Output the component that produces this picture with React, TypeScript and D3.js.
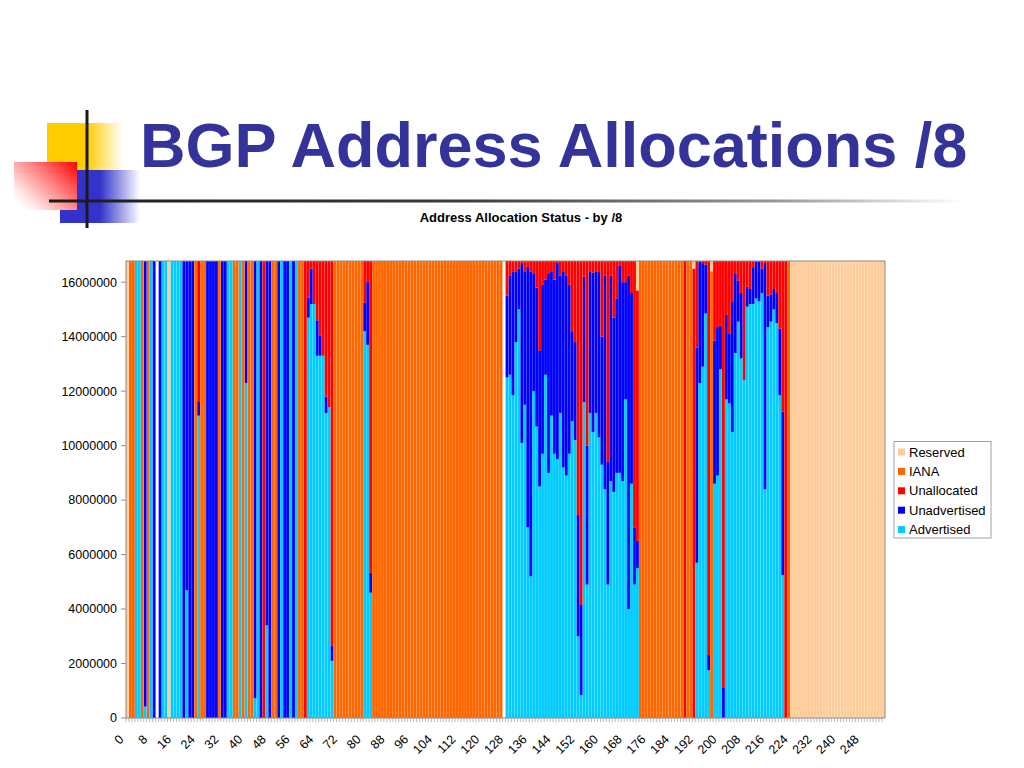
import React, { useEffect } from "react";
import * as d3 from "d3";

// ---------- DATA ----------
const BLOCK = 16777216; // addresses in one /8
const MILLION = 1e6;

const blockIds: number[] = Array.from({ length: 256 }, (_, i) => i);

// Status of each /8 when the whole block is in one state.
// R Reserved, I IANA, U Unallocated, N Unadvertised, A Advertised, M mixed (see mixedBlocks), - nothing
const blockStatus = [
  "RIIAAIMIAN-NAARA", // 0-15
  "AAANMNNIMIINNNNI", // 16-31
  "NNAAIIAIMIIMANUM", // 32-47
  "NIINANNANAIIUMMM", // 48-63
  "MMMMMMIIIIIIIIII", // 64-79
  "MMMIIIIIIIIIIIII", // 80-95
  "IIIIIIIIIIIIIIII", // 96-111
  "IIIIIIIIIIIIIII-", // 112-127
  "MMMMMMMMMMMMMMMM", // 128-143
  "MMMMMMMMMMMMMMMM", // 144-159
  "MMMMMMMMMMMMMIII", // 160-175
  "IIIIIIIIIIIIUIIM", // 176-191
  "MMMMMMMMMMMMMMMM", // 192-207
  "MMMMMMMMMMMMMMUI", // 208-223
  "RRRRRRRRRRRRRRRR", // 224-239
  "RRRRRRRRRRRRRRRR", // 240-255
].join("");

// Mixed /8s, in millions of addresses, bottom to top:
// [block, advertised, unadvertised, unallocated, iana, reserved]; null = rest of the /8
type Mixed = [number, number | null, number | null, number | null, number | null, number | null];
const mixedBlocks: Mixed[] = [
  [6, 0.42, null, 0, 0, 0],
  [20, 4.7, null, 0, 0, 0],
  [24, 11.1, 0.5, null, 0, 0],
  [40, 12.3, null, 0, 0, 0],
  [43, 0.72, null, 0, 0, 0],
  [47, 3.4, null, 0, 0, 0],
  [61, 14.7, 0.73, null, 0, 0],
  [62, 15.2, 1.3, null, 0, 0],
  [63, 15.2, 0, null, 0, 0],
  [64, 13.3, 1.3, null, 0, 0],
  [65, 13.3, 0.73, null, 0, 0],
  [66, 13.3, 0, null, 0, 0],
  [67, 11.2, 0.6, null, 0, 0],
  [68, 11.4, 0, null, 0, 0],
  [69, 2.1, 0.55, null, 0, 0],
  [80, 14.2, 1.04, null, 0, 0],
  [81, 13.7, 2.3, null, 0, 0],
  [82, 4.6, 0.73, null, 0, 0],
  [128, 12.5, 3.0, null, 0, 0],
  [129, 12.6, 3.65, null, 0, 0],
  [130, 11.85, 4.55, null, 0, 0],
  [131, 13.8, 2.6, null, 0, 0],
  [132, 15.0, 1.5, null, 0, 0],
  [133, 10.1, 6.6, null, 0, 0],
  [134, 11.5, 4.9, null, 0, 0],
  [135, 7.0, 9.56, null, 0, 0],
  [136, 5.2, 11.2, null, 0, 0],
  [137, 12.0, 4.3, null, 0, 0],
  [138, 10.7, 5.1, null, 0, 0],
  [139, 8.5, 5.0, null, 0, 0],
  [140, 9.7, 6.2, null, 0, 0],
  [141, 12.6, 3.5, null, 0, 0],
  [142, 9.0, 7.3, null, 0, 0],
  [143, 11.1, 5.3, null, 0, 0],
  [144, 9.7, 6.4, null, 0, 0],
  [145, 9.5, 7.2, null, 0, 0],
  [146, 11.2, 5.05, null, 0, 0],
  [147, 9.2, 7.2, null, 0, 0],
  [148, 8.9, 7.35, null, 0, 0],
  [149, 9.7, 6.2, null, 0, 0],
  [150, 10.9, 3.3, null, 0, 0],
  [151, 10.2, 3.6, null, 0, 0],
  [152, 3.0, 4.45, null, 0, 0],
  [153, 0.84, 3.31, null, 0, 0],
  [154, 11.6, 4.6, null, 0, 0],
  [155, 4.9, 5.1, null, 0, 0],
  [156, 11.2, 5.2, null, 0, 0],
  [157, 10.5, 5.85, null, 0, 0],
  [158, 11.2, 5.2, null, 0, 0],
  [159, 10.3, 6.1, null, 0, 0],
  [160, 9.3, 4.7, null, 0, 0],
  [161, 8.4, 7.85, null, 0, 0],
  [162, 4.9, 4.5, null, 0, 0],
  [163, 8.7, 7.55, null, 0, 0],
  [164, 8.3, 6.4, null, 0, 0],
  [165, 9.0, 6.4, null, 0, 0],
  [166, 9.0, 7.6, null, 0, 0],
  [167, 8.7, 7.3, null, 0, 0],
  [168, 11.7, 4.3, null, 0, 0],
  [169, 4.0, 12.25, null, 0, 0],
  [170, 8.6, 7.0, null, 0, 0],
  [171, 4.9, 2.1, null, 0, 0],
  [172, 5.5, 1.0, 9.2, 0, null],
  [191, 0, 0, 16.5, 0, null],
  [192, 5.7, 7.9, null, 0, 0],
  [193, 12.3, 4.45, null, 0, 0],
  [194, 12.9, 3.8, null, 0, 0],
  [195, 14.85, 1.8, null, 0, 0],
  [196, 1.76, 0.55, null, 0, 0],
  [197, 0, 0, 0, 16.4, null],
  [198, 8.6, 5.26, null, 0, 0],
  [199, 8.9, 5.45, null, 0, 0],
  [200, 12.8, 1.6, null, 0, 0],
  [201, 0, 1.1, null, 0, 0],
  [202, 11.7, 3.1, null, 0, 0],
  [203, 11.55, 2.55, null, 0, 0],
  [204, 10.5, 4.8, null, 0, 0],
  [205, 13.4, 2.9, null, 0, 0],
  [206, 14.55, 1.5, null, 0, 0],
  [207, 13.2, 2.4, null, 0, 0],
  [208, 12.4, 0, null, 0, 0],
  [209, 15.1, 0.73, null, 0, 0],
  [210, 15.2, 0.55, null, 0, 0],
  [211, 15.2, 1.35, null, 0, 0],
  [212, 15.4, 1.35, null, 0, 0],
  [213, 15.3, 1.45, null, 0, 0],
  [214, 15.6, 0.9, null, 0, 0],
  [215, 8.4, 8.3, null, 0, 0],
  [216, 14.35, 1.15, null, 0, 0],
  [217, 14.55, 1.0, null, 0, 0],
  [218, 15.0, 0.75, null, 0, 0],
  [219, 14.5, 1.1, null, 0, 0],
  [220, 11.85, 2.45, null, 0, 0],
  [221, 5.25, 6.0, null, 0, 0],
];

const seriesKeys = ["advertised", "unadvertised", "unallocated", "iana", "reserved"];
const seriesLabels = ["Advertised", "Unadvertised", "Unallocated", "IANA", "Reserved"];
const seriesColors = ["#00CCFF", "#0000FF", "#FF0000", "#FF6600", "#FFCC99"];
const statusSeries: Record<string, string> = {
  A: "advertised",
  N: "unadvertised",
  U: "unallocated",
  I: "iana",
  R: "reserved",
};

const yTickValues = [0, 2000000, 4000000, 6000000, 8000000, 10000000, 12000000, 14000000, 16000000];
const xLabelEvery = 8;

const chartTitle = "Address Allocation Status - by /8";
const slideTitle = "BGP Address Allocations /8";

type Row = { id: number; [k: string]: number };

function buildRows(): Row[] {
  const mixedMap = new Map<number, Mixed>(mixedBlocks.map((m) => [m[0], m]));
  return blockIds.map((id) => {
    const row: Row = { id };
    seriesKeys.forEach((k) => (row[k] = 0));
    const s = blockStatus[id];
    if (s === "M") {
      const m = mixedMap.get(id)!;
      const vals = m.slice(1) as (number | null)[];
      const known = vals.reduce((acc: number, v) => acc + (v ?? 0) * MILLION, 0);
      vals.forEach((v, k) => {
        row[seriesKeys[k]] = v === null ? Math.max(0, BLOCK - known) : v * MILLION;
      });
    } else if (statusSeries[s]) {
      row[statusSeries[s]] = BLOCK;
    }
    return row;
  });
}

// ---------- CHART ----------
const FONT = "'Liberation Sans', Arial, Helvetica, sans-serif";
const PLOT = { left: 126, right: 885, top: 261, bottom: 718 };

export default function App() {
  useEffect(() => {
    document.body.style.margin = "0";
  }, []);

  const rows = buildRows();
  const layers = d3.stack<Row>().keys(seriesKeys)(rows);

  const x = d3
    .scaleBand<number>()
    .domain(blockIds)
    .range([PLOT.left, PLOT.right])
    .paddingInner(0.05)
    .paddingOuter(0.02);
  const y = d3.scaleLinear().domain([0, BLOCK]).range([PLOT.bottom, PLOT.top]);
  const step = x.step();

  const legendItems = seriesKeys.map((k, i) => ({ key: k, label: seriesLabels[i], color: seriesColors[i] })).reverse();

  return (
    <svg width={1024} height={768} style={{ position: "absolute", left: 0, top: 0, background: "#fff" }} fontFamily={FONT}>
      <defs>
        <linearGradient id="yellowFade" x1="0" y1="0" x2="1" y2="0">
          <stop offset="0" stopColor="#FFCC00" />
          <stop offset="0.52" stopColor="#FFCC00" />
          <stop offset="1" stopColor="#FFCC00" stopOpacity="0" />
        </linearGradient>
        <linearGradient id="blueFade" x1="0" y1="0" x2="1" y2="0">
          <stop offset="0" stopColor="#3333CC" />
          <stop offset="0.5" stopColor="#3333CC" />
          <stop offset="1" stopColor="#3333CC" stopOpacity="0" />
        </linearGradient>
        <linearGradient id="redFade" x1="1" y1="0" x2="0" y2="0.8">
          <stop offset="0" stopColor="#FF0000" />
          <stop offset="0.45" stopColor="#FF8080" />
          <stop offset="0.85" stopColor="#FFE6E6" />
          <stop offset="1" stopColor="#FFFFFF" />
        </linearGradient>
        <linearGradient id="lineFade" x1="0" y1="0" x2="1" y2="0">
          <stop offset="0" stopColor="#1a1a1a" />
          <stop offset="0.45" stopColor="#3a3a3a" />
          <stop offset="0.8" stopColor="#9a9a9a" />
          <stop offset="1" stopColor="#ffffff" />
        </linearGradient>
      </defs>

      {/* slide decoration */}
      <rect x={47} y={123} width={76} height={47} fill="url(#yellowFade)" />
      <rect x={60} y={170} width={80} height={53} fill="url(#blueFade)" />
      <rect x={14} y={162} width={63} height={48} fill="url(#redFade)" />
      <rect x={49} y={199.5} width={916} height={3} fill="url(#lineFade)" />
      <rect x={85.5} y={110} width={3} height={118} fill="#1a1a1a" />

      <text x={140} y={167} fontSize={63} fontWeight="bold" fill="#333399">
        {slideTitle}
      </text>

      <text x={521} y={222} fontSize={13} fontWeight="bold" textAnchor="middle" fill="#000">
        {chartTitle}
      </text>

      {/* bars */}
      <g>
        {layers.map((layer, li) => (
          <g key={layer.key} fill={seriesColors[li]}>
            {layer.map((d) => {
              const h = y(d[0]) - y(d[1]);
              if (h <= 0) return null;
              return <rect key={d.data.id} x={x(d.data.id)} y={y(d[1])} width={x.bandwidth()} height={h} />;
            })}
          </g>
        ))}
      </g>

      {/* plot frame */}
      <rect
        x={PLOT.left}
        y={PLOT.top}
        width={PLOT.right - PLOT.left}
        height={PLOT.bottom - PLOT.top}
        fill="none"
        stroke="#8c8c8c"
        strokeWidth={1}
      />

      {/* y axis */}
      <g>
        {yTickValues.map((v) => (
          <g key={v} transform={`translate(0,${y(v)})`}>
            <line x1={PLOT.left - 5} x2={PLOT.left} stroke="#8c8c8c" />
            <text x={PLOT.left - 9} dy="0.35em" textAnchor="end" fontSize={12.5} fill="#000">
              {v}
            </text>
          </g>
        ))}
      </g>

      {/* x axis */}
      <g>
        {blockIds.map((id) => (
          <line
            key={id}
            x1={PLOT.left + id * step}
            x2={PLOT.left + id * step}
            y1={PLOT.bottom}
            y2={PLOT.bottom + 4}
            stroke="#8c8c8c"
            strokeWidth={0.6}
          />
        ))}
        {blockIds
          .filter((id) => id % xLabelEvery === 0)
          .map((id) => {
            const cx = (x(id) ?? 0) + x.bandwidth() / 2;
            return (
              <text
                key={id}
                transform={`translate(${cx - 3},${740}) rotate(-45)`}
                textAnchor="end"
                fontSize={12.5}
                fill="#000"
              >
                {id}
              </text>
            );
          })}
      </g>

      {/* legend */}
      <g>
        <rect x={894} y={441.5} width={97} height={96.5} fill="#fff" stroke="#a0a0a0" strokeWidth={1} />
        {legendItems.map((it, i) => (
          <g key={it.key} transform={`translate(898,${452 + i * 19.4})`}>
            <rect x={0} y={-3.5} width={7} height={7} fill={it.color} />
            <text x={11} dy="0.35em" fontSize={13} fill="#000">
              {it.label}
            </text>
          </g>
        ))}
      </g>
    </svg>
  );
}
